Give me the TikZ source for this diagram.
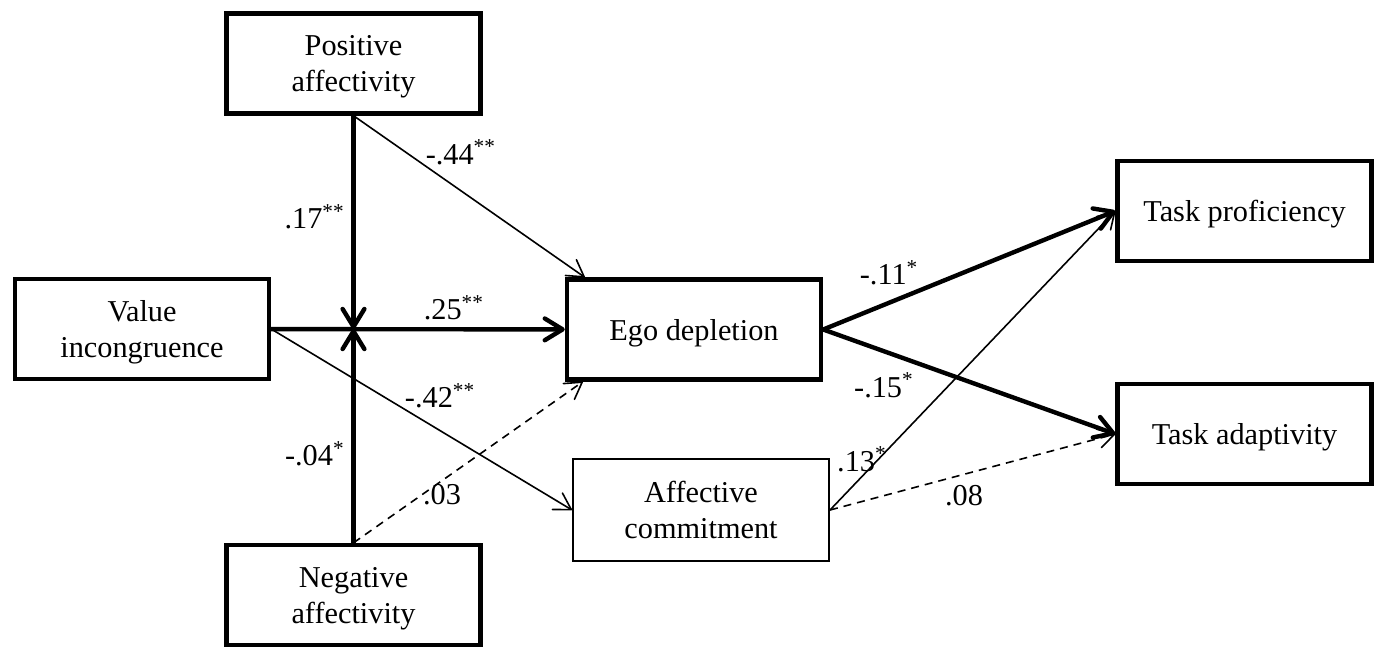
\documentclass[tikz,border=0pt]{standalone}
\usepackage{fontspec}
\setmainfont{Liberation Serif}
\usetikzlibrary{arrows.meta}

\begin{document}
\begin{tikzpicture}[
            x=0.5pt, y=-0.5pt,
            font=\fontsize{15.15}{18}\selectfont,
            >={Straight Barb[length=7.6pt 0.6, width=8.9pt 0.9, round]},
            block/.style={draw, rectangle, line width=2.2pt, align=center,
                            minimum height=50pt, minimum width=127pt,
                            text depth=0pt},
            lightblock/.style={block, line width=1pt,
                            minimum height=51pt, minimum width=128pt},
            strong/.style={line width=2.2pt, line cap=round},
            weak/.style={line width=0.8pt},
            nonsig/.style={line width=0.8pt, dash pattern=on 4pt off 3pt}
        ]
            \useasboundingbox (0,0) rectangle (1381,649);

            \node[block] (pa) at (353.5,63.5) {Positive\\affectivity};
            \node[block] (vi) at (142,329) {Value\\incongruence};
            \node[block] (na) at (353.5,595) {Negative\\affectivity};
            \node[block] (ego) at (694,329.5) {Ego depletion};
            \node[lightblock] (ac) at (701,510) {Affective\\commitment};
            \node[block] (tp) at (1244.5,211) {Task proficiency};
            \node[block] (ta) at (1244.5,434) {Task adaptivity};

            \coordinate (j) at (pa.south |- vi.east);

            % moderators
            \draw[strong,->] (pa) -- node[left, pos=0.474] (l17) {.17\textsuperscript{**}} (j);
            \draw[strong,->] (na) -- node[left, pos=0.416] (l04) {-.04\textsuperscript{*}} (j);

            \draw[strong,->] (vi) -- node[above, pos=0.622] (l25) {.25\textsuperscript{**}} (ego);
            \draw[weak,->] (pa.south) -- node[anchor=south west, inner sep=0, pos=0.309] (l44) {-.44\textsuperscript{**}} ([xshift=10pt]ego.north west);
            \draw[nonsig,->] (na.north) -- node[anchor=west, inner sep=0, pos=0.30] (l03) {.03} ([xshift=9pt]ego.south west);
            \draw[weak,->] (vi.east) -- node[anchor=south west, inner sep=0, pos=0.442] (l42) {-.42\textsuperscript{**}} (ac.west);

            % outcomes
            \draw[strong,->] (ego.east) -- node[anchor=south east, inner sep=1pt, pos=0.34] (l11) {-.11\textsuperscript{*}} (tp.west);
            \draw[strong,->] (ego.east) -- node[anchor=north east, inner sep=3pt, pos=0.338] (l15) {-.15\textsuperscript{*}} (ta.west);
            \draw[weak,->] (ac.east) -- node[anchor=east, inner sep=0, pos=0.17, xshift=4.5pt] (l13) {.13\textsuperscript{*}} (tp.west);
            \draw[nonsig,->] (ac.east) -- node[below=2pt, pos=0.47] (l08) {.08} (ta.west);

        \end{tikzpicture}
\end{document}
